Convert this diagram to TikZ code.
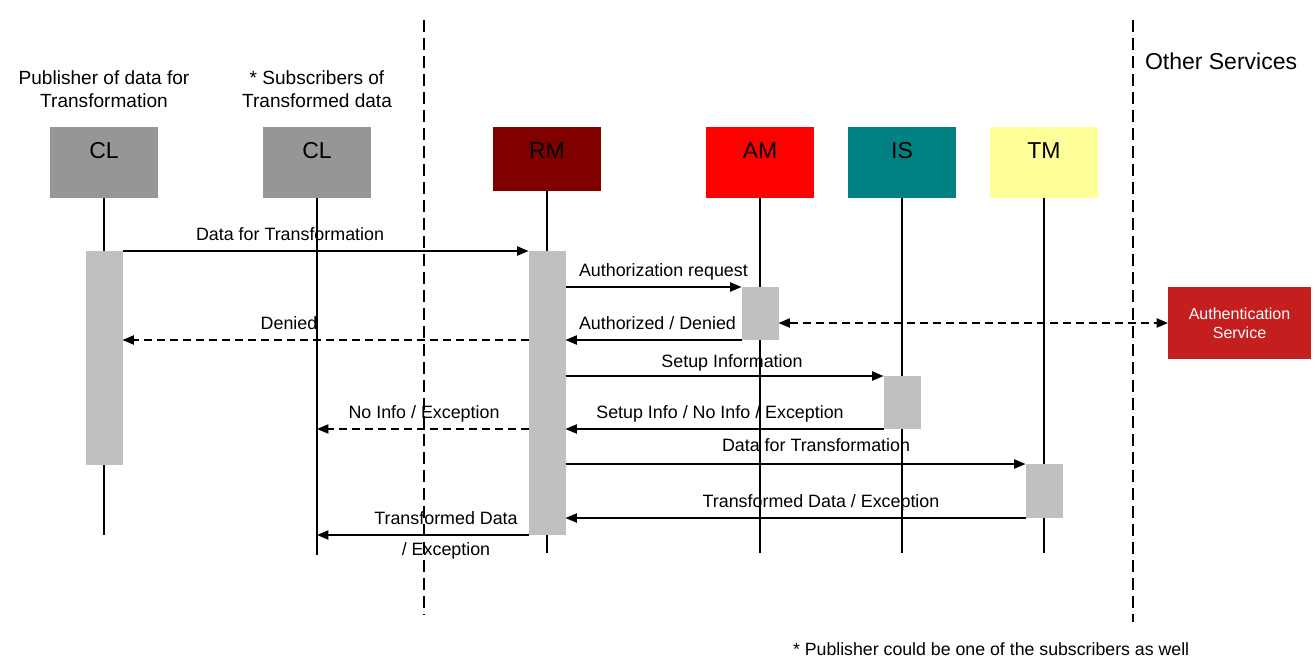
\documentclass[tikz,border=0pt]{standalone}
\usepackage{fontspec}
\setmainfont{Liberation Sans}
\usetikzlibrary{arrows.meta,calc}
\definecolor{clgray}{RGB}{150,150,150}
\definecolor{rmred}{RGB}{128,0,0}
\definecolor{amred}{RGB}{255,0,0}
\definecolor{isteal}{RGB}{0,128,128}
\definecolor{tmyellow}{RGB}{255,255,153}
\definecolor{actgray}{RGB}{192,192,192}
\definecolor{authred}{RGB}{196,30,30}
\begin{document}
\begin{tikzpicture}[x=0.75pt,y=-0.75pt,
  every node/.style={inner sep=0pt, outer sep=0pt},
  party/.style={anchor=north west, minimum width=81pt, minimum height=53.25pt, fill=#1},
  act/.style={anchor=north, minimum width=27.75pt, fill=actgray},
  life/.style={line width=1pt, black},
  sepline/.style={line width=1.5pt, dash pattern=on 9pt off 4.5pt},
  tip/.tip={Triangle[length=8.6pt,width=7pt]},
  msg/.style={line width=1pt, -tip},
  dmsg/.style={msg, dash pattern=on 6pt off 3.75pt},
  lbl/.style={font=\fontsize{13.4}{16}\selectfont, anchor=base},
  ttl/.style={font=\fontsize{14.3}{17}\selectfont, anchor=base},
  boxtxt/.style={font=\fontsize{17.25}{20}\selectfont, anchor=base}
]
% canvas
\fill[white] (0,0) rectangle (1315,662);
\useasboundingbox (0,0) rectangle (1315,662);

% zone separators
\draw[sepline] (424,20) -- (424,615);
\draw[sepline] (1133,20) -- (1133,622);

% participants
\node[party=clgray]   (cl1) at (50,127) {};
\node[party=clgray]   (cl2) at (263,127) {};
\node[party=rmred, minimum height=48pt] (rm) at (493,127) {};
\node[party=amred]    (am) at (706,127) {};
\node[party=isteal]   (is) at (848,127) {};
\node[party=tmyellow] (tm) at (990,127) {};

\node[boxtxt] at ($(cl1.north)+(0,31)$) {CL};
\node[boxtxt] at ($(cl2.north)+(0,31)$) {CL};
\node[boxtxt] at ($(rm.north)+(0,31)$) {RM};
\node[boxtxt] at ($(am.north)+(0,31)$) {AM};
\node[boxtxt] at ($(is.north)+(0,31)$) {IS};
\node[boxtxt] at ($(tm.north)+(0,31)$) {TM};

% lifelines
\draw[life] (cl1.south) -- (cl1.south |- 0,535);
\draw[life] (cl2.south) -- (cl2.south |- 0,555);
\draw[life] (rm.south) -- (rm.south |- 0,553);
\draw[life] (am.south) -- (am.south |- 0,553);
\draw[life] (is.south) -- (is.south |- 0,553);
\draw[life] (tm.south) -- (tm.south |- 0,553);

% activations
\node[act, minimum height=160.5pt] (a1)  at (cl1.south |- 0,251) {};
\node[act, minimum height=213pt]   (aRM) at (rm.south |- 0,251) {};
\node[act, minimum height=39.75pt] (aAM) at (am.south |- 0,287) {};
\node[act, minimum height=39.75pt] (aIS) at (is.south |- 0,376) {};
\node[act, minimum height=40.5pt]  (aTM) at (tm.south |- 0,464) {};

% external service
\node[anchor=north west, fill=authred, minimum width=107.25pt, minimum height=54pt,
      text=white, align=center, font=\fontsize{12}{14.25}\selectfont]
      (auth) at (1168,287) {Authentication\\Service};

% messages
\draw[msg]  (a1.north east) -- (aRM.north west);
\draw[msg]  (aRM.east |- aAM.north) -- (aAM.north west);
\draw[msg]  (aAM.south west) -- (aRM.east |- aAM.south);
\draw[dmsg] (aRM.west |- aAM.south) -- (a1.east |- aAM.south);
\draw[dmsg, tip-tip] (aAM.east |- auth.west) -- (auth.west);
\draw[msg]  (aRM.east |- aIS.north) -- (aIS.north west);
\draw[msg]  (aIS.south west) -- (aRM.east |- aIS.south);
\draw[dmsg] (aRM.west |- aIS.south) -- (cl2.south |- aIS.south);
\draw[msg]  (aRM.east |- aTM.north) -- (aTM.north west);
\draw[msg]  (aTM.south west) -- (aRM.east |- aTM.south);
\draw[msg]  (aRM.south west) -- (cl2.south |- aRM.south);

% message labels
\node[lbl] at (290,240) {Data for Transformation};
\node[lbl, anchor=base west] at (579,276) {Authorization request};
\node[lbl, anchor=base west] at (579,329) {Authorized / Denied};
\node[lbl] at (289,329) {Denied};
\node[lbl] at (732,367) {Setup Information};
\node[lbl] at (720,418) {Setup Info / No Info / Exception};
\node[lbl] at (424,418) {No Info / Exception};
\node[lbl] at (816,451) {Data for Transformation};
\node[lbl] at (821,507) {Transformed Data / Exception};
\node[lbl] at (446,524) {Transformed Data};
\node[lbl] at (446,555) {/ Exception};

% headings
\node[ttl] at (104,84) {Publisher of data for};
\node[ttl] at (104,107) {Transformation};
\node[ttl] at (317,84) {* Subscribers of};
\node[ttl] at (317,107) {Transformed data};
\node[boxtxt, anchor=base west] at (1145,69) {Other Services};
\node[anchor=base west, font=\fontsize{13.3}{16}\selectfont] at (793,655)
  {* Publisher could be one of the subscribers as well};
\end{tikzpicture}
\end{document}
